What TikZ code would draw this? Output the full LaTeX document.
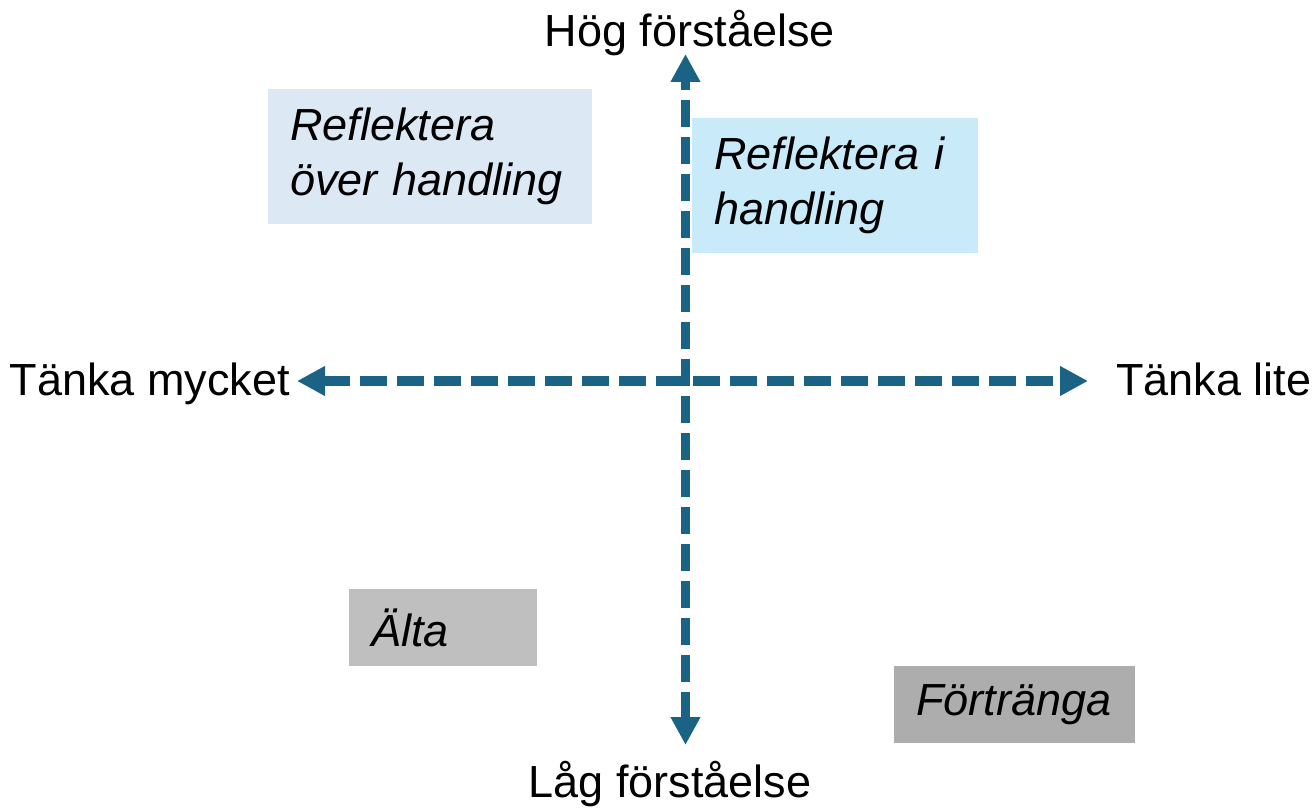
\documentclass[tikz,border=0pt]{standalone}
\usepackage{fontspec}
\setmainfont{Liberation Sans}
\usetikzlibrary{arrows.meta}
\definecolor{axisblue}{HTML}{1B6385}
\definecolor{boxA}{HTML}{DCE9F5}
\definecolor{boxB}{HTML}{C9EBF9}
\definecolor{boxC}{HTML}{BFBFBF}
\definecolor{boxD}{HTML}{ADADAD}
\tikzset{
  axis/.style={draw=axisblue, line width=7pt, dash pattern=on 20.25pt off 7.5pt,
    {Triangle[width=21pt,length=21pt]}-{Triangle[width=21pt,length=21pt]}},
  quad/.style={rectangle, inner xsep=16.5pt, inner ysep=0pt, align=left,
    font=\fontsize{33.75}{41}\selectfont\itshape},
  lab/.style={inner sep=0pt, font=\fontsize{33.75}{41}\selectfont}
}
\begin{document}
\begin{tikzpicture}[x=0.75pt,y=-0.75pt]
\useasboundingbox (0,0) rectangle (1316,809);
% quadrant boxes
\node[quad, fill=boxA, minimum width=243pt, minimum height=101.25pt, text width=210pt] (q1) at (430,156.5) {Reflektera\\över handling};
\node[quad, fill=boxB, minimum width=214.5pt, minimum height=101.25pt, text width=181.5pt] (q2) at (835,185.5) {Reflektera i\\handling};
\node[quad, fill=boxC, minimum width=141pt, minimum height=57.75pt, text width=108pt] (q3) at (443,627.5) {Älta};
\node[quad, fill=boxD, minimum width=180.75pt, minimum height=57.75pt, text width=147.75pt] (q4) at (1014.5,704.5) {Förtränga};
% axis end points
\coordinate (top) at (685.5,54);
\coordinate (bottom) at (685.5,745);
\coordinate (left) at (297,381);
\coordinate (right) at (1088,381);
\draw[axis] (bottom) -- (top);
\draw[axis] (left) -- (right);
% labels
\node[lab, anchor=base] (hog) at (690,47) {Hög förståelse};
\node[lab, anchor=base] (lag) at (670,797) {Låg förståelse};
\node[lab, anchor=base east] (mycket) at (290,395) {Tänka mycket};
\node[lab, anchor=base west] (lite) at (1116,395) {Tänka lite};
\end{tikzpicture}
\end{document}
